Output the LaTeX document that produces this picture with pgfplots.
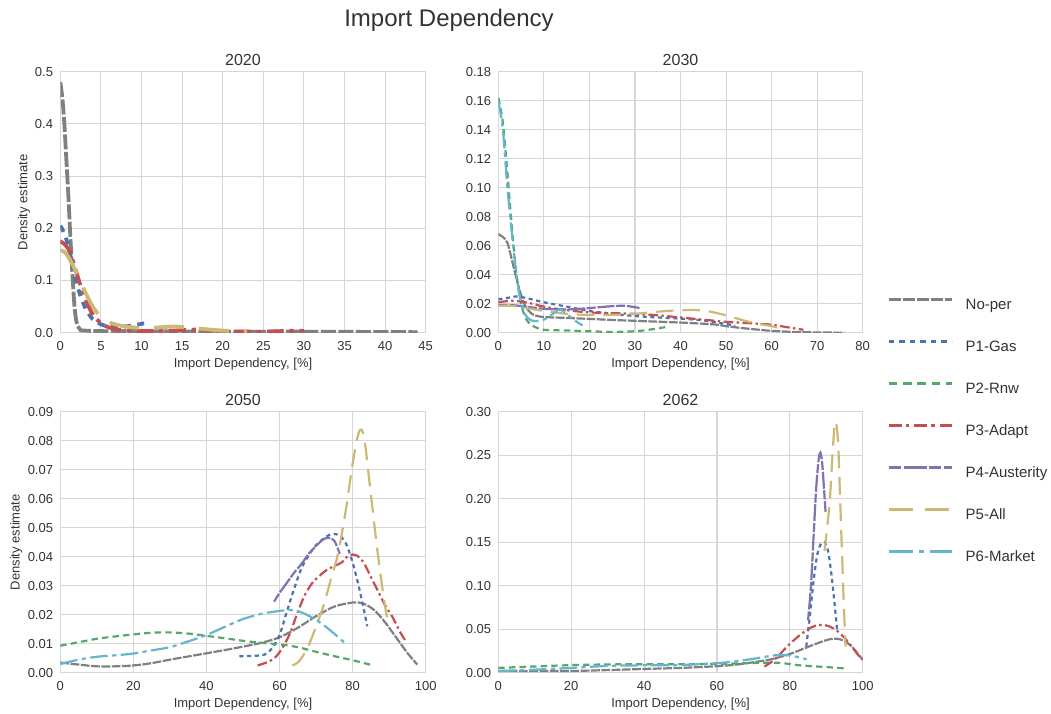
\documentclass[border=0pt]{standalone}
\usepackage{fontspec}
\setmainfont{Liberation Sans}
\usepackage{pgfplots}
\pgfplotsset{compat=1.18}

\definecolor{txt}{HTML}{333333}
\definecolor{gridc}{HTML}{D6D6D6}
\definecolor{cNo}{HTML}{808080}
\definecolor{cGas}{HTML}{4C72B0}
\definecolor{cRnw}{HTML}{55A868}
\definecolor{cAdapt}{HTML}{C44E52}
\definecolor{cAust}{HTML}{8172B2}
\definecolor{cAll}{HTML}{CCB974}
\definecolor{cMkt}{HTML}{64B5CD}

% line styles (normal panels)
\tikzset{
  sNo/.style={cNo, line width=2.2pt, dash pattern=on 8.8pt off 1.5pt},
  sGas/.style={cGas, line width=2.2pt, dash pattern=on 4.1pt off 3.6pt},
  sRnw/.style={cRnw, line width=2.2pt, dash pattern=on 6.4pt off 4.2pt},
  sAdapt/.style={cAdapt, line width=2.2pt, dash pattern=on 9.7pt off 3.3pt on 2.4pt off 3.5pt},
  sAust/.style={cAust, line width=2.2pt, dash pattern=on 9.2pt off 1.8pt on 17pt off 1.5pt},
  sAll/.style={cAll, line width=2.2pt, dash pattern=on 17.6pt off 8.8pt},
  sMkt/.style={cMkt, line width=2.2pt, dash pattern=on 17.6pt off 4.4pt on 4.2pt off 4.4pt},
  % thick versions for the 2020 panel
  tNo/.style={cNo, line width=3.8pt, dash pattern=on 15pt off 2.5pt},
  tGas/.style={cGas, line width=3.8pt, dash pattern=on 7pt off 6.3pt},
  tAdapt/.style={cAdapt, line width=3.8pt, dash pattern=on 16.7pt off 5.7pt on 4.2pt off 6pt},
  tAll/.style={cAll, line width=3.8pt, dash pattern=on 30pt off 15pt},
  % legend versions
  lNo/.style={cNo, line width=3pt, dash pattern=on 12pt off 2pt},
  lGas/.style={cGas, line width=3pt, dash pattern=on 5.5pt off 5pt},
  lRnw/.style={cRnw, line width=3pt, dash pattern=on 8.7pt off 5.7pt},
  lAdapt/.style={cAdapt, line width=3pt, dash pattern=on 13pt off 4.3pt on 3.3pt off 5pt},
  lAust/.style={cAust, line width=3pt, dash pattern=on 12.7pt off 2.3pt on 23pt off 2pt},
  lAll/.style={cAll, line width=3pt, dash pattern=on 24pt off 12pt},
  lMkt/.style={cMkt, line width=3pt, dash pattern=on 24pt off 6pt on 5.7pt off 6pt},
}

\pgfplotsset{
  panel/.style={
    scale only axis, height=261pt, anchor=south west,
    axis line style={gridc, line width=1.1pt},
    grid=major, major grid style={gridc, line width=1.1pt},
    major tick length=0pt, tick style={draw=none},
    scaled y ticks=false, scaled x ticks=false,
    /pgf/number format/assume math mode=true,
    tick label style={font=\fontsize{13}{15}\selectfont, text=txt},
    xticklabel style={anchor=base, yshift=-18pt},
    yticklabel style={xshift=-3.7pt},
    xlabel={Import Dependency, [\%]},
    xlabel style={font=\fontsize{13}{15}\selectfont, text=txt,
      at={(axis description cs:0.5,-0.1322)}, anchor=base},
    ylabel style={font=\fontsize{13}{15}\selectfont, text=txt, anchor=base},
    every axis title shift=0pt,
    title style={font=\fontsize{16}{18}\selectfont, text=txt,
      at={(axis description cs:0.5,1.023)}, anchor=base},
    every axis plot/.append style={smooth, no markers},
  },
}

\begin{document}
\begin{tikzpicture}
\useasboundingbox (0,0) rectangle (1051pt,713pt);

\node[font=\fontsize{24}{28}\selectfont, text=txt, anchor=base] at (449pt,686.4pt) {Import Dependency};

% ---------------- 2020 ----------------
\begin{axis}[panel, at={(60.3pt,380.3pt)}, width=365.4pt,
  title={2020}, ylabel={Density estimate},
  ylabel style={at={(axis description cs:-0.0903,0.5)}},
  xmin=0, xmax=45, ymin=0, ymax=0.5,
  xtick={0,5,...,45}, ytick={0,0.1,...,0.5},
  yticklabel style={/pgf/number format/.cd, fixed, fixed zerofill, precision=1},
]
\addplot[tNo] coordinates {
 (0,0.48) (0.25,0.45) (0.5,0.40) (0.75,0.33) (1.0,0.26) (1.25,0.18) (1.5,0.11)
 (1.75,0.05) (2.0,0.02) (2.25,0.01) (2.5,0.005) (3,0.004) (5,0.003) (10,0.003)
 (20,0.002) (30,0.002) (44,0.001)};
\addplot[tGas] coordinates {
 (0,0.205) (0.5,0.19) (1,0.165) (1.5,0.13) (2,0.095) (2.5,0.07) (3,0.05) (3.5,0.036)
 (4,0.026) (5,0.016) (6,0.012) (7,0.011) (8,0.012) (9,0.014) (10,0.017) (11,0.02)};
\addplot[tAdapt] coordinates {
 (0,0.175) (0.5,0.17) (1,0.16) (1.5,0.14) (2,0.115) (2.5,0.09) (3,0.07) (3.5,0.05)
 (4,0.035) (5,0.018) (6,0.01) (7,0.006) (8,0.004) (10,0.003) (14,0.004) (17,0.006)
 (20,0.003) (25,0.002) (29,0.004) (30,0.003)};
\addplot[tAll] coordinates {
 (0,0.158) (0.5,0.155) (1,0.145) (2,0.115) (3,0.08) (4,0.05) (5,0.03) (6,0.02)
 (7,0.015) (8,0.012) (10,0.009) (12,0.010) (14,0.012) (15,0.011) (17,0.008)
 (20,0.004) (23,0.002)};
\end{axis}

% ---------------- 2030 ----------------
\begin{axis}[panel, at={(498.3pt,380.3pt)}, width=364.4pt,
  title={2030},
  xmin=0, xmax=80, ymin=0, ymax=0.18,
  xtick={0,10,...,80}, ytick={0,0.02,...,0.18},
  yticklabel style={/pgf/number format/.cd, fixed, fixed zerofill, precision=2},
]
\addplot[sNo] coordinates {
 (0,0.068) (1,0.066) (2,0.062) (3,0.05) (4,0.037) (5,0.026) (6,0.018) (7,0.014)
 (8,0.012) (10,0.0108) (15,0.0102) (20,0.0095) (25,0.0088) (30,0.0082) (35,0.0076)
 (40,0.007) (45,0.0062) (48,0.0055) (50,0.0045) (55,0.0027) (60,0.0013) (65,0.0005)
 (70,0.0002) (76,0.0)};
\addplot[sGas] coordinates {
 (0,0.023) (2,0.024) (4,0.025) (6,0.024) (10,0.021) (15,0.018) (20,0.015) (25,0.013)
 (30,0.0115) (35,0.0105) (40,0.0097) (45,0.0085) (48,0.007) (50,0.006) (52,0.005)};
\addplot[sRnw] coordinates {
 (0,0.162) (1,0.145) (2,0.11) (3,0.072) (4,0.04) (5,0.02) (6,0.01) (7,0.006)
 (8,0.004) (10,0.002) (15,0.0015) (20,0.001) (25,0.0005) (30,0.001) (33,0.002) (37,0.004)};
\addplot[sAdapt] coordinates {
 (0,0.021) (3,0.022) (6,0.021) (10,0.018) (15,0.0155) (20,0.014) (25,0.0135) (30,0.013)
 (35,0.012) (40,0.0105) (45,0.009) (50,0.0075) (55,0.0066) (60,0.0055) (63,0.004) (67,0.002)};
\addplot[sAust] coordinates {
 (0,0.019) (3,0.019) (6,0.018) (10,0.0165) (15,0.016) (20,0.017) (25,0.0183) (28,0.0185) (31,0.017)};
\addplot[sAll] coordinates {
 (0,0.0185) (3,0.0185) (6,0.017) (10,0.015) (15,0.013) (20,0.0122) (25,0.0123) (30,0.013)
 (35,0.0145) (40,0.0155) (45,0.0153) (50,0.012) (55,0.0075) (60,0.0045) (62,0.003)};
\addplot[sMkt] coordinates {
 (0,0.16) (1,0.14) (2,0.1) (3,0.068) (4,0.04) (5,0.02) (6,0.012) (7,0.009) (8,0.008)
 (10,0.009) (12,0.013) (13.5,0.016) (15,0.013) (17,0.008) (18.5,0.005)};
\end{axis}

% ---------------- 2050 ----------------
\begin{axis}[panel, at={(60.3pt,40.3pt)}, width=365.4pt,
  title={2050}, ylabel={Density estimate},
  ylabel style={at={(axis description cs:-0.111,0.5)}},
  xmin=0, xmax=100, ymin=0, ymax=0.09,
  xtick={0,20,...,100}, ytick={0,0.01,...,0.09},
  yticklabel style={/pgf/number format/.cd, fixed, fixed zerofill, precision=2},
]
\addplot[sNo] coordinates {
 (0,0.0035) (5,0.0028) (10,0.0022) (15,0.0022) (20,0.0025) (25,0.0033) (30,0.0045)
 (35,0.0056) (40,0.0067) (45,0.0078) (50,0.009) (55,0.0103) (60,0.0122) (65,0.0155)
 (70,0.0195) (75,0.0228) (80,0.0242) (83,0.0238) (86,0.0215) (89,0.0172) (92,0.012)
 (95,0.0068) (97.7,0.0028)};
\addplot[sGas] coordinates {
 (49,0.0057) (53,0.0058) (56,0.0063) (58,0.0085) (60,0.013) (62,0.021) (64,0.029)
 (66,0.036) (68,0.0405) (70,0.044) (72,0.0462) (74,0.0477) (76,0.0476) (78,0.045)
 (80,0.038) (82,0.028) (84,0.016)};
\addplot[sRnw] coordinates {
 (0,0.0093) (5,0.0105) (10,0.0117) (15,0.0125) (20,0.0132) (25,0.0138) (30,0.0139)
 (35,0.0135) (40,0.0127) (45,0.0119) (50,0.011) (55,0.0103) (60,0.0098) (65,0.0088)
 (70,0.0072) (75,0.0057) (80,0.0043) (85,0.0027)};
\addplot[sAdapt] coordinates {
 (54,0.0025) (57,0.0038) (59,0.0055) (61,0.009) (63,0.014) (65,0.021) (67,0.027)
 (69,0.031) (71,0.0335) (73,0.0355) (75,0.0368) (77,0.038) (79,0.0405) (81,0.0405)
 (83,0.038) (85,0.033) (87,0.028) (89,0.023) (91,0.019) (93,0.014) (94.5,0.011)};
\addplot[sAust] coordinates {
 (58.5,0.0245) (60,0.0275) (62,0.031) (64,0.0345) (66,0.0375) (68,0.041) (70,0.0437)
 (72,0.046) (73.5,0.0465) (75,0.0455) (76.5,0.041)};
\addplot[sAll] coordinates {
 (63.5,0.0025) (65,0.0035) (66.5,0.006) (68,0.0095) (70,0.016) (72,0.023) (74,0.032)
 (76,0.041) (78,0.055) (80,0.072) (81.5,0.082) (82.5,0.0838) (83.5,0.078) (84.5,0.067)
 (85.5,0.056) (86.5,0.045) (87.5,0.035) (88.5,0.026) (89.5,0.018)};
\addplot[sMkt] coordinates {
 (0,0.003) (5,0.0045) (10,0.0055) (15,0.006) (20,0.0066) (25,0.0077) (30,0.0088)
 (35,0.0108) (40,0.013) (45,0.0158) (50,0.0185) (55,0.0203) (60,0.0213) (63,0.0216)
 (66,0.0208) (70,0.0182) (74,0.0145) (78.5,0.0095)};
\end{axis}

% ---------------- 2062 ----------------
\begin{axis}[panel, at={(498.3pt,40.3pt)}, width=364.4pt,
  title={2062},
  xmin=0, xmax=100, ymin=0, ymax=0.30,
  xtick={0,20,...,100}, ytick={0,0.05,...,0.30},
  yticklabel style={/pgf/number format/.cd, fixed, fixed zerofill, precision=2},
  legend style={at={(axis description cs:1.0667,1.4356)}, anchor=north west,
    draw=none, fill=none, inner sep=0pt, outer sep=0pt,
    font=\fontsize{15}{17}\selectfont, text=txt,
    nodes={inner sep=0pt, text height=11pt, text depth=3pt},
    row sep=28pt, /tikz/every odd column/.append style={column sep=12.7pt}},
  legend cell align=left,
  legend image code/.code={\draw[#1] (0pt,5.5pt) -- (63pt,5.5pt);},
]
\addlegendimage{lNo}\addlegendentry{No-per}
\addlegendimage{lGas}\addlegendentry{P1-Gas}
\addlegendimage{lRnw}\addlegendentry{P2-Rnw}
\addlegendimage{lAdapt}\addlegendentry{P3-Adapt}
\addlegendimage{lAust}\addlegendentry{P4-Austerity}
\addlegendimage{lAll}\addlegendentry{P5-All}
\addlegendimage{lMkt}\addlegendentry{P6-Market}
\addplot[sNo, forget plot] coordinates {
 (0,0.002) (10,0.0018) (20,0.002) (30,0.003) (40,0.0043) (50,0.0055) (60,0.0075)
 (65,0.0092) (70,0.012) (75,0.0155) (80,0.0215) (84,0.028) (88,0.0345) (91,0.0385)
 (93,0.039) (95,0.0365) (97,0.03) (99,0.02) (100,0.015)};
\addplot[sGas, forget plot] coordinates {
 (84.5,0.03) (85.5,0.065) (86.5,0.105) (87.5,0.135) (88.5,0.148) (89.5,0.15)
 (90.5,0.14) (91.5,0.11) (92.5,0.07) (93,0.048)};
\addplot[sRnw, forget plot] coordinates {
 (0,0.0055) (10,0.0072) (20,0.0087) (30,0.0095) (40,0.0098) (50,0.0098) (60,0.0102)
 (70,0.0112) (75,0.0115) (78,0.011) (82,0.0088) (86,0.0075) (90,0.0065) (95,0.005)};
\addplot[sAdapt, forget plot] coordinates {
 (73,0.007) (75,0.0125) (77,0.02) (79,0.029) (81,0.037) (83,0.044) (85,0.05) (87,0.054)
 (89,0.055) (91,0.053) (93,0.048) (95,0.04) (97,0.03) (99,0.019) (100,0.015)};
\addplot[sAust, forget plot] coordinates {
 (85,0.06) (85.8,0.1) (86.5,0.155) (87.2,0.21) (87.9,0.245) (88.4,0.253) (88.9,0.24)
 (89.4,0.21) (89.8,0.185)};
\addplot[sAll, forget plot] coordinates {
 (89.5,0.14) (90.2,0.165) (91,0.2) (91.7,0.25) (92.3,0.285) (92.8,0.285) (93.3,0.26)
 (93.8,0.2) (94.3,0.14) (94.8,0.08) (95.3,0.03)};
\addplot[sMkt, forget plot] coordinates {
 (0,0.002) (10,0.0035) (20,0.0055) (30,0.0078) (40,0.0085) (50,0.0088) (60,0.011)
 (65,0.013) (70,0.016) (75,0.0195) (78,0.0205) (81,0.019) (84.6,0.0155)};
\end{axis}
\end{tikzpicture}
\end{document}
